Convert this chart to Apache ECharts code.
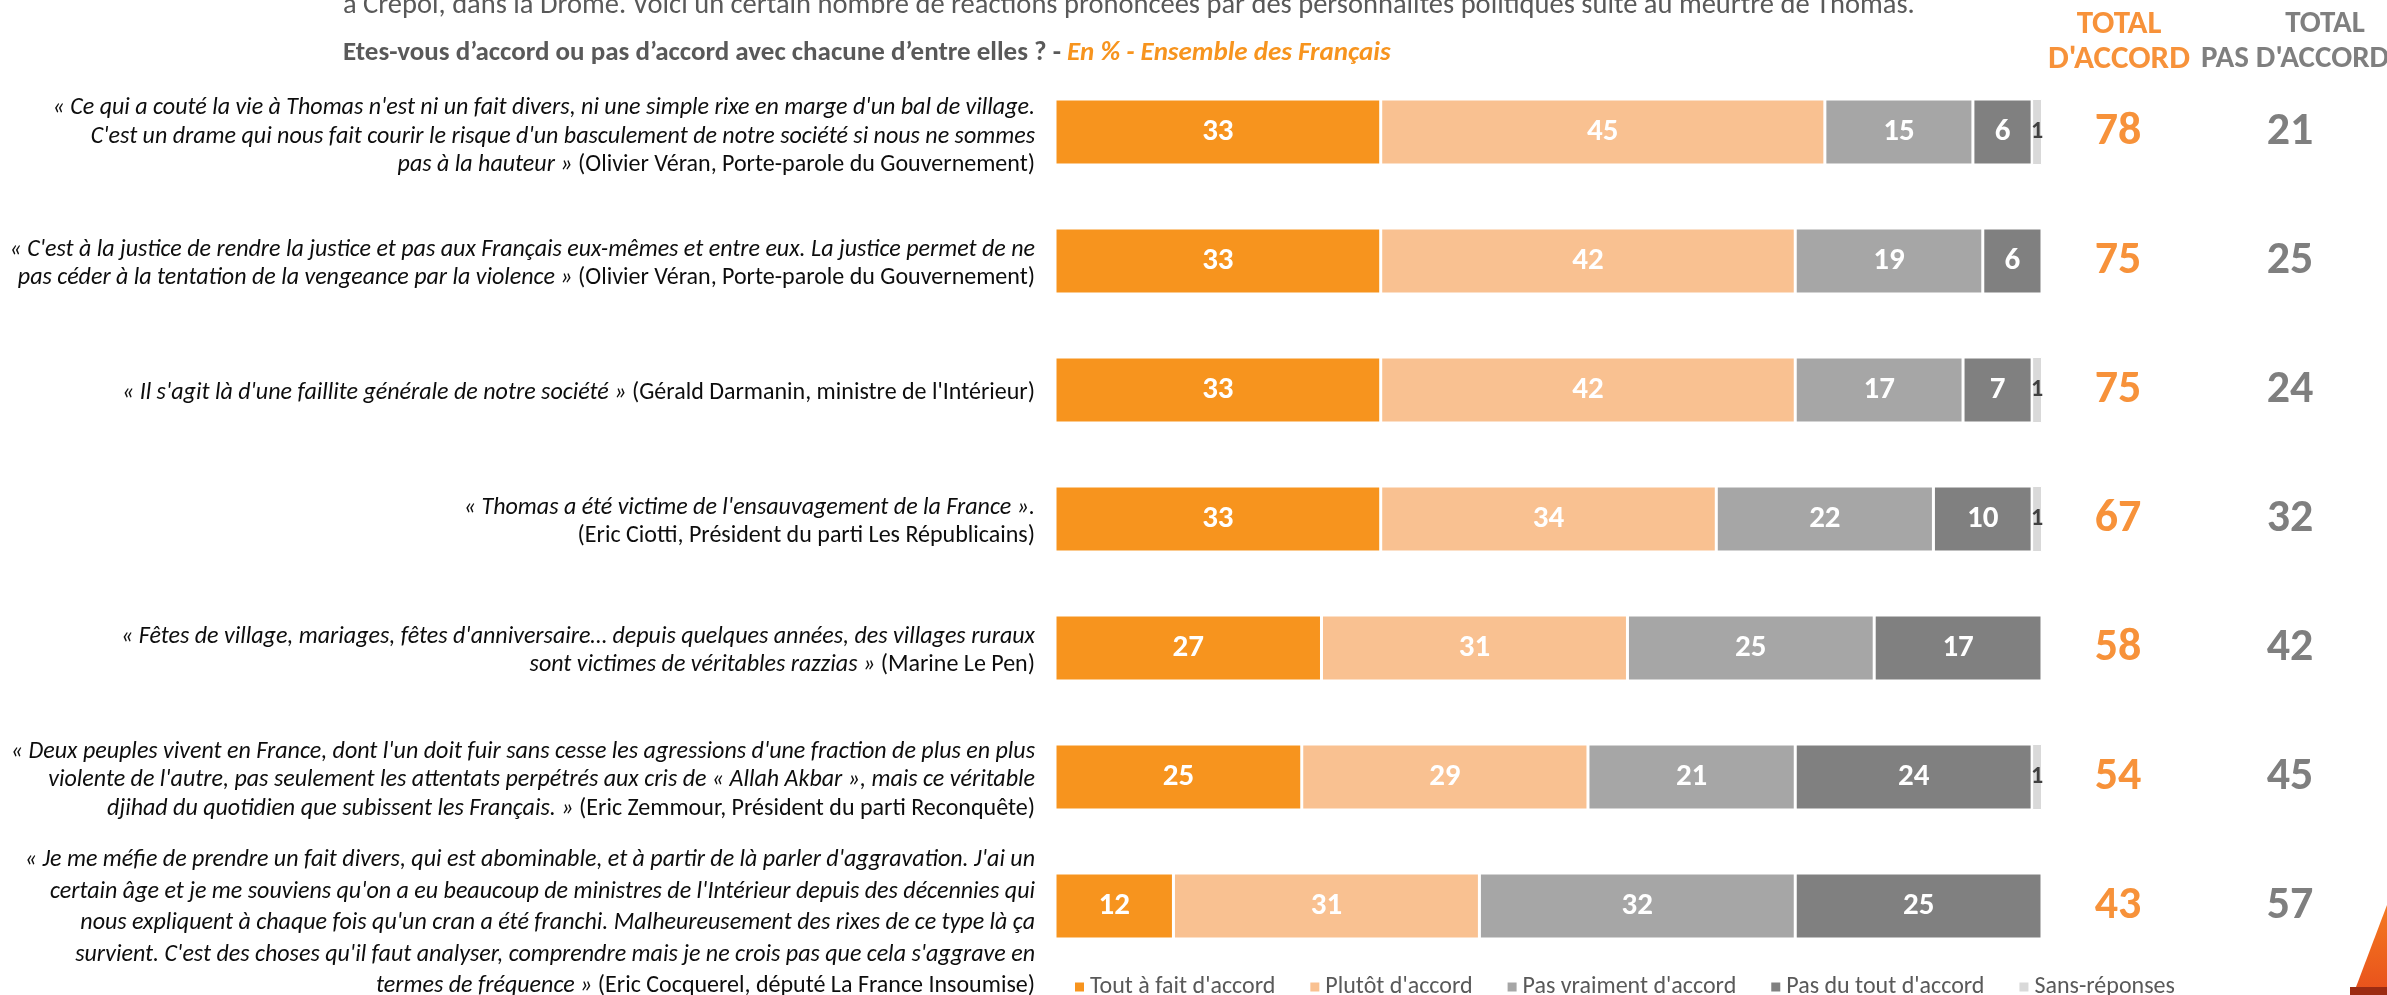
<!DOCTYPE html>
<html>
<head>
<meta charset="utf-8">
<script src="https://cdn.jsdelivr.net/npm/echarts@6/dist/echarts.min.js"></script>
<style>
  html, body { margin: 0; padding: 0; background: #fff; }
  #chart { width: 2387px; height: 995px; }
</style>
</head>
<body>
<div id="chart"></div>
<script>
const FONT = "Carlito, Lato, sans-serif"

const seriesNames = ["Tout à fait d'accord", "Plutôt d'accord", "Pas vraiment d'accord", "Pas du tout d'accord", 'Sans-réponses']
const toutAFait = [33, 33, 33, 33, 27, 25, 12]
const plutot = [45, 42, 42, 34, 31, 29, 31]
const pasVraiment = [15, 19, 17, 22, 25, 21, 32]
const pasDuTout = [6, 6, 7, 10, 17, 24, 25]
const sansReponse = [1, 0, 1, 1, 0, 1, 0]
const totalAccord = [78, 75, 75, 67, 58, 54, 43]
const totalPasAccord = [21, 25, 24, 32, 42, 45, 57]

const quotes = [
  ["« Ce qui a couté la vie à Thomas n'est ni un fait divers, ni une simple rixe en marge d'un bal de village.",
    "C'est un drame qui nous fait courir le risque d'un basculement de notre société si nous ne sommes",
    'pas à la hauteur »'],
  ["« C'est à la justice de rendre la justice et pas aux Français eux-mêmes et entre eux. La justice permet de ne",
    'pas céder à la tentation de la vengeance par la violence »'],
  ["« Il s'agit là d'une faillite générale de notre société »"],
  ["« Thomas a été victime de l'ensauvagement de la France »."],
  ["« Fêtes de village, mariages, fêtes d'anniversaire… depuis quelques années, des villages ruraux",
    'sont victimes de véritables razzias »'],
  ["« Deux peuples vivent en France, dont l'un doit fuir sans cesse les agressions d'une fraction de plus en plus",
    "violente de l'autre, pas seulement les attentats perpétrés aux cris de « Allah Akbar », mais ce véritable",
    'djihad du quotidien que subissent les Français. »'],
  ["« Je me méfie de prendre un fait divers, qui est abominable, et à partir de là parler d'aggravation. J'ai un",
    "certain âge et je me souviens qu'on a eu beaucoup de ministres de l'Intérieur depuis des décennies qui",
    "nous expliquent à chaque fois qu'un cran a été franchi. Malheureusement des rixes de ce type là ça",
    "survient. C'est des choses qu'il faut analyser, comprendre mais je ne crois pas que cela s'aggrave en",
    'termes de fréquence »']
]
const authors = [
  '(Olivier Véran, Porte-parole du Gouvernement)',
  '(Olivier Véran, Porte-parole du Gouvernement)',
  "(Gérald Darmanin, ministre de l'Intérieur)",
  '(Eric Ciotti, Président du parti Les Républicains)',
  '(Marine Le Pen)',
  '(Eric Zemmour, Président du parti Reconquête)',
  '(Eric Cocquerel, député La France Insoumise)'
]
const authorOwnLine = [false, false, false, true, false, false, false]

const colors = ['#F7941E', '#F9C191', '#A6A6A6', '#808080', '#D9D9D9']

// texte des questions en rich text (citation en italique, auteur en normal)
function buildLabel (i) {
  const last = i === quotes.length - 1
  const q = last ? 'q2' : 'q'
  const a = last ? 'a2' : 'a'
  const lines = quotes[i].map(l => '{' + q + '|' + l + '}')
  if (authorOwnLine[i]) {
    lines.push('{' + a + '|' + authors[i] + '}')
  } else {
    lines[lines.length - 1] += '{' + a + '| ' + authors[i] + '}'
  }
  return lines.join('\n')
}

const labelPadTop = [9, 6, 6, 6, 6, 6, 34]
const categories = quotes.map((q, i) => ({
  value: String(i),
  textStyle: { padding: [labelPadTop[i], 0, 0, 0] }
}))

const valueLists = [toutAFait, plutot, pasVraiment, pasDuTout, sansReponse]
const series = valueLists.map((vals, k) => ({
  name: seriesNames[k],
  type: 'bar',
  stack: 'total',
  barWidth: 66,
  data: vals,
  itemStyle: { color: colors[k], borderColor: '#fff', borderWidth: k === 4 ? 1 : 1.5 },
  label: {
    show: true,
    position: 'inside',
    formatter: p => (p.value ? String(p.value) : ''),
    color: k === 4 ? '#404040' : '#fff',
    fontWeight: 'bold',
    fontSize: k === 4 ? 24 : 31,
    fontFamily: FONT
  }
}))

const quoteStyle = { fontFamily: FONT, fontSize: 24, fontStyle: 'italic', color: '#0d0d0d', align: 'right' }
const authorStyle = { fontFamily: FONT, fontSize: 24, color: '#0d0d0d', align: 'right' }

const option = {
  animation: false,
  color: colors,
  textStyle: { fontFamily: FONT },
  title: [
    {
      text: 'à Crépol, dans la Drôme. Voici un certain nombre de réactions prononcées par des personnalités politiques suite au meurtre de Thomas.',
      left: 338,
      top: -14,
      textStyle: { fontFamily: FONT, fontSize: 28.5, fontWeight: 'normal', color: '#595959' }
    },
    {
      text: "{b|Etes-vous d’accord ou pas d’accord avec chacune d’entre elles ? - }{o|En % - Ensemble des Français}",
      left: 338,
      top: 35,
      textStyle: {
        rich: {
          b: { fontFamily: FONT, fontSize: 27, fontWeight: 700, color: '#595959' },
          o: { fontFamily: FONT, fontSize: 27, fontStyle: 'italic', color: '#F7941E' }
        }
      }
    },
    {
      text: "TOTAL\nD'ACCORD",
      left: 2114,
      top: 2,
      textAlign: 'center',
      textStyle: { fontFamily: FONT, fontSize: 33, fontWeight: 700, color: '#F7923A', lineHeight: 35 }
    },
    {
      text: 'TOTAL',
      left: 2320,
      top: 2,
      textAlign: 'center',
      textStyle: { fontFamily: FONT, fontSize: 31, fontWeight: 700, color: '#7F7F7F', lineHeight: 35 }
    },
    {
      text: "PAS D'ACCORD",
      left: 2196,
      top: 37,
      textStyle: { fontFamily: FONT, fontSize: 31, fontWeight: 700, color: '#7F7F7F', lineHeight: 35 }
    }
  ],
  legend: {
    data: seriesNames,
    left: 1068,
    top: 970,
    icon: 'rect',
    itemWidth: 11,
    itemHeight: 11,
    itemGap: 33,
    textStyle: { fontFamily: FONT, fontSize: 24, color: '#595959' }
  },
  grid: { left: 1055, right: 345, top: 67.5, bottom: 24.5, outerBoundsMode: 'none' },
  xAxis: { type: 'value', min: 0, max: 100, show: false },
  yAxis: [
    {
      type: 'category',
      inverse: true,
      data: categories,
      axisLine: { show: false },
      axisTick: { show: false },
      axisLabel: {
        margin: 20,
        align: 'right',
        formatter: (v, i) => buildLabel(i),
        rich: {
          q: Object.assign({ lineHeight: 28.5 }, quoteStyle),
          a: Object.assign({ lineHeight: 28.5 }, authorStyle),
          q2: Object.assign({ lineHeight: 31.5 }, quoteStyle),
          a2: Object.assign({ lineHeight: 31.5 }, authorStyle)
        }
      }
    },
    {
      type: 'category',
      inverse: true,
      position: 'right',
      data: totalAccord.map(String),
      axisLine: { show: false },
      axisTick: { show: false },
      axisLabel: {
        margin: 76,
        align: 'center',
        padding: [0, 0, 8, 0],
        fontFamily: FONT,
        fontSize: 46,
        fontWeight: 700,
        color: '#F7923A'
      }
    },
    {
      type: 'category',
      inverse: true,
      position: 'right',
      data: totalPasAccord.map(String),
      axisLine: { show: false },
      axisTick: { show: false },
      axisLabel: {
        margin: 248,
        align: 'center',
        fontFamily: FONT,
        fontSize: 46,
        fontWeight: 700,
        color: '#7F7F7F'
      }
    }
  ],
  series,
  graphic: [
    {
      type: 'polygon',
      shape: { points: [[2353, 995], [2387, 905], [2387, 995]] },
      style: {
        fill: new echarts.graphic.LinearGradient(0, 0, 0, 1, [
          { offset: 0, color: '#F47A20' },
          { offset: 1, color: '#E8501C' }
        ])
      }
    },
    {
      type: 'rect',
      shape: { x: 2350, y: 987, width: 37, height: 8 },
      style: { fill: '#9C2B12' }
    }
  ]
}

const myChart = echarts.init(document.getElementById('chart'))
myChart.setOption(option)
window.addEventListener('resize', () => myChart.resize())
</script>
</body>
</html>
